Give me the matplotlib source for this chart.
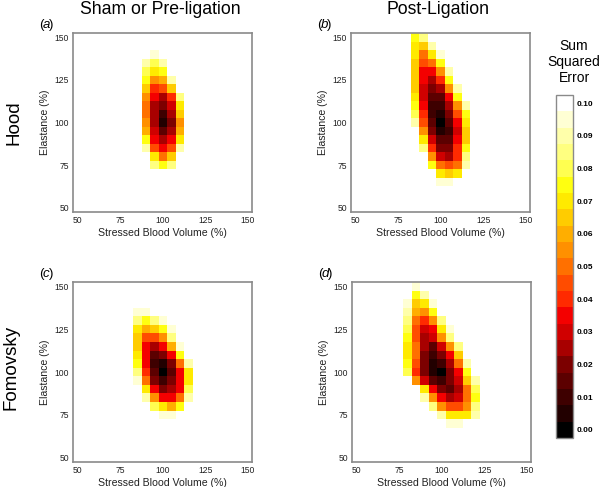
import numpy as np
import matplotlib
matplotlib.use("Agg")
import matplotlib.pyplot as plt
from matplotlib.colors import ListedColormap, BoundaryNorm

plt.rcParams['font.family'] = ['Liberation Sans', 'DejaVu Sans']

nan = np.nan

# Grid of parameter values (% of nominal)
sbv_grid = list(range(50, 155, 5))        # Stressed Blood Volume (%)
elast_grid = list(range(50, 155, 5))      # Elastance (%)

# ---- (a) Hood, Sham or Pre-ligation ----
a_cols = [90, 95, 100, 105, 110]
a_rows = [140, 135, 130, 125, 120, 115, 110, 105, 100, 95, 90, 85, 80, 75]
a_sse = [
    [nan,   0.095, nan,   nan,   nan],
    [0.09,  0.08,  0.09,  nan,   nan],
    [0.08,  0.07,  0.075, nan,   nan],
    [0.075, 0.055, 0.06,  0.09,  nan],
    [0.065, 0.04,  0.045, 0.065, nan],
    [0.055, 0.035, 0.025, 0.04,  0.085],
    [0.05,  0.025, 0.02,  0.03,  0.07],
    [0.05,  0.025, 0.01,  0.025, 0.065],
    [0.055, 0.025, 0.005, 0.02,  0.055],
    [0.06,  0.03,  0.015, 0.025, 0.06],
    [0.075, 0.035, 0.025, 0.035, 0.07],
    [0.09,  0.045, 0.035, 0.045, 0.09],
    [nan,   0.07,  0.05,  0.065, nan],
    [nan,   0.085, 0.075, 0.085, nan],
]

# ---- (b) Hood, Post-Ligation ----
b_cols = [85, 90, 95, 100, 105, 110, 115]
b_rows = [150, 145, 140, 135, 130, 125, 120, 115, 110, 105, 100, 95, 90, 85, 80, 75, 70, 65]
b_sse = [
    [0.075, 0.085, nan,   nan,   nan,   nan,   nan],
    [0.07,  0.065, 0.09,  nan,   nan,   nan,   nan],
    [0.07,  0.05,  0.07,  0.095, nan,   nan,   nan],
    [0.065, 0.045, 0.05,  0.075, nan,   nan,   nan],
    [0.065, 0.035, 0.035, 0.055, 0.09,  nan,   nan],
    [0.065, 0.035, 0.025, 0.04,  0.075, nan,   nan],
    [0.065, 0.03,  0.02,  0.025, 0.055, 0.09,  nan],
    [0.07,  0.03,  0.015, 0.015, 0.035, 0.075, nan],
    [0.075, 0.035, 0.01,  0.01,  0.025, 0.055, 0.09],
    [0.08,  0.04,  0.01,  0.005, 0.02,  0.045, 0.075],
    [0.09,  0.045, 0.015, 0.0,   0.015, 0.035, 0.07],
    [nan,   0.055, 0.02,  0.005, 0.01,  0.03,  0.065],
    [nan,   0.07,  0.03,  0.015, 0.015, 0.035, 0.065],
    [nan,   0.085, 0.04,  0.02,  0.02,  0.04,  0.075],
    [nan,   nan,   0.055, 0.03,  0.025, 0.04,  0.085],
    [nan,   nan,   0.075, 0.05,  0.045, 0.05,  0.09],
    [nan,   nan,   nan,   0.07,  0.065, 0.07,  nan],
    [nan,   nan,   nan,   0.095, 0.095, nan,   nan],
]

# ---- (c) Fomovsky, Sham or Pre-ligation ----
c_cols = [85, 90, 95, 100, 105, 110, 115]
c_rows = [135, 130, 125, 120, 115, 110, 105, 100, 95, 90, 85, 80, 75]
c_sse = [
    [0.095, 0.095, nan,   nan,   nan,   nan,   nan],
    [0.085, 0.075, 0.085, 0.095, nan,   nan,   nan],
    [0.07,  0.06,  0.065, 0.075, 0.095, nan,   nan],
    [0.065, 0.045, 0.045, 0.055, 0.085, nan,   nan],
    [0.065, 0.035, 0.025, 0.035, 0.06,  0.095, nan],
    [0.07,  0.035, 0.015, 0.02,  0.035, 0.075, nan],
    [0.075, 0.035, 0.01,  0.005, 0.02,  0.05,  0.09],
    [0.085, 0.04,  0.015, 0.0,   0.015, 0.035, 0.07],
    [0.095, 0.05,  0.02,  0.01,  0.02,  0.035, 0.07],
    [nan,   0.07,  0.035, 0.02,  0.025, 0.035, 0.08],
    [nan,   0.09,  0.055, 0.035, 0.035, 0.05,  0.09],
    [nan,   nan,   0.08,  0.07,  0.06,  0.075, nan],
    [nan,   nan,   nan,   0.095, 0.095, nan,   nan],
]

# ---- (d) Fomovsky, Post-Ligation ----
d_cols = [80, 85, 90, 95, 100, 105, 110, 115, 120]
d_rows = [150, 145, 140, 135, 130, 125, 120, 115, 110, 105, 100, 95, 90, 85, 80, 75, 70]
d_sse = [
    [nan,   0.095, nan,   nan,   nan,   nan,   nan,   nan,   nan],
    [nan,   0.075, 0.09,  nan,   nan,   nan,   nan,   nan,   nan],
    [0.095, 0.065, 0.07,  0.095, nan,   nan,   nan,   nan,   nan],
    [0.09,  0.06,  0.055, 0.075, nan,   nan,   nan,   nan,   nan],
    [0.085, 0.05,  0.04,  0.055, 0.085, nan,   nan,   nan,   nan],
    [0.08,  0.045, 0.03,  0.035, 0.07,  0.095, nan,   nan,   nan],
    [0.075, 0.045, 0.025, 0.03,  0.055, 0.085, nan,   nan,   nan],
    [0.07,  0.05,  0.025, 0.015, 0.03,  0.055, 0.085, nan,   nan],
    [0.07,  0.05,  0.02,  0.01,  0.02,  0.035, 0.065, nan,   nan],
    [0.075, 0.045, 0.02,  0.005, 0.01,  0.025, 0.05,  0.09,  nan],
    [0.08,  0.04,  0.02,  0.005, 0.0,   0.02,  0.035, 0.075, nan],
    [nan,   0.055, 0.03,  0.015, 0.01,  0.02,  0.03,  0.065, 0.09],
    [nan,   nan,   0.07,  0.035, 0.02,  0.015, 0.025, 0.05,  0.08],
    [nan,   nan,   0.09,  0.055, 0.035, 0.025, 0.03,  0.05,  0.075],
    [nan,   nan,   nan,   0.085, 0.055, 0.045, 0.045, 0.055, 0.085],
    [nan,   nan,   nan,   nan,   0.09,  0.07,  0.07,  0.07,  0.09],
    [nan,   nan,   nan,   nan,   nan,   0.095, 0.095, nan,   nan],
]

col_titles = ["Sham or Pre-ligation", "Post-Ligation"]
row_titles = ["Hood", "Fomovsky"]
panel_letters = ["a", "b", "c", "d"]
tick_vals = [50, 75, 100, 125, 150]
cbar_ticks = [0.00, 0.01, 0.02, 0.03, 0.04, 0.05, 0.06, 0.07, 0.08, 0.09, 0.10]

# discrete colormap, 21 levels of 0.005 from 0.00 to 0.10
level_colors = ["#000000", "#220000", "#3e0000", "#5c0000", "#7c0000",
                "#a80000", "#d00000", "#f40000", "#ff2a00", "#ff4c00",
                "#ff7000", "#ff9000", "#ffae00", "#ffcc00", "#ffea00",
                "#ffff10", "#ffff50", "#ffff80", "#ffffaa", "#ffffd4", "#ffffff"]
cmap = ListedColormap(level_colors)
cmap.set_bad("white")
bounds = np.arange(-0.0025, 0.1026, 0.005)
norm = BoundaryNorm(bounds, cmap.N)


def full_grid(cols, rows, sse):
    g = np.full((len(elast_grid), len(sbv_grid)), np.nan)
    for i, r in enumerate(rows):
        for j, c in enumerate(cols):
            g[elast_grid.index(r), sbv_grid.index(c)] = sse[i][j]
    return g


panels = [(a_cols, a_rows, a_sse), (b_cols, b_rows, b_sse),
          (c_cols, c_rows, c_sse), (d_cols, d_rows, d_sse)]

W, H = 600, 487
fig = plt.figure(figsize=(W / 100, H / 100), dpi=100)

# axes boxes in pixels: left, top, right, bottom
boxes = [(73, 33, 252, 212), (351, 33, 530, 212),
         (73, 282, 252, 462), (352, 282, 531, 462)]

spine_col = "#8a8a8a"
for k, (box, pdata) in enumerate(zip(boxes, panels)):
    l, t, r, b = box
    ax = fig.add_axes([l / W, 1 - b / H, (r - l) / W, (b - t) / H])
    g = full_grid(*pdata)
    ax.imshow(g, origin="lower", cmap=cmap, norm=norm, interpolation="nearest",
              extent=[47.5, 152.5, 47.5, 152.5], aspect="auto")
    ax.set_xlim(47.5, 152.5)
    ax.set_ylim(47.5, 152.5)
    ax.set_xticks(tick_vals)
    ax.set_yticks(tick_vals)
    ax.tick_params(length=0, labelsize=6.2, pad=3, colors="#222222")
    for s in ax.spines.values():
        s.set_color(spine_col)
        s.set_linewidth(1.2)
    ax.set_xlabel("Stressed Blood Volume (%)", fontsize=7.6, labelpad=2, color="#222222")
    ax.set_ylabel("Elastance (%)", fontsize=7.6, labelpad=3, color="#222222")
    fig.text((l - 34) / W, 1 - (t - 8) / H, "(", fontsize=9.5, ha="left", va="center")
    fig.text((l - 30.5) / W, 1 - (t - 8) / H, panel_letters[k], fontsize=9.5,
             style="italic", ha="left", va="center")
    fig.text((l - 24) / W, 1 - (t - 8) / H, ")", fontsize=9.5, ha="left", va="center")

# column titles
fig.text(160 / W, 1 - 9 / H, col_titles[0], fontsize=12.7, ha="center", va="center")
fig.text(438 / W, 1 - 9 / H, col_titles[1], fontsize=12.7, ha="center", va="center")
# row titles
fig.text(14 / W, 1 - 123 / H, row_titles[0], fontsize=13.5, rotation=90, ha="center", va="center")
fig.text(11 / W, 1 - 367 / H, row_titles[1], fontsize=13.5, rotation=90, ha="center", va="center")

# colorbar
cax = fig.add_axes([556 / W, 1 - 438 / H, 16.5 / W, 343 / H])
sm = matplotlib.cm.ScalarMappable(norm=norm, cmap=cmap)
cb = fig.colorbar(sm, cax=cax, ticks=cbar_ticks, drawedges=False)
cb.minorticks_off()
cb.outline.set_edgecolor(spine_col)
cb.outline.set_linewidth(1.0)
cax.tick_params(which="both", length=0, labelsize=6, pad=3)
cax.set_yticklabels([f"{v:.2f}" for v in cbar_ticks], fontweight="bold")
fig.text(574 / W, 1 - 62 / H, "Sum\nSquared\nError", fontsize=10, ha="center",
         va="center", linespacing=1.15)

fig.savefig("out.png", dpi=100)
